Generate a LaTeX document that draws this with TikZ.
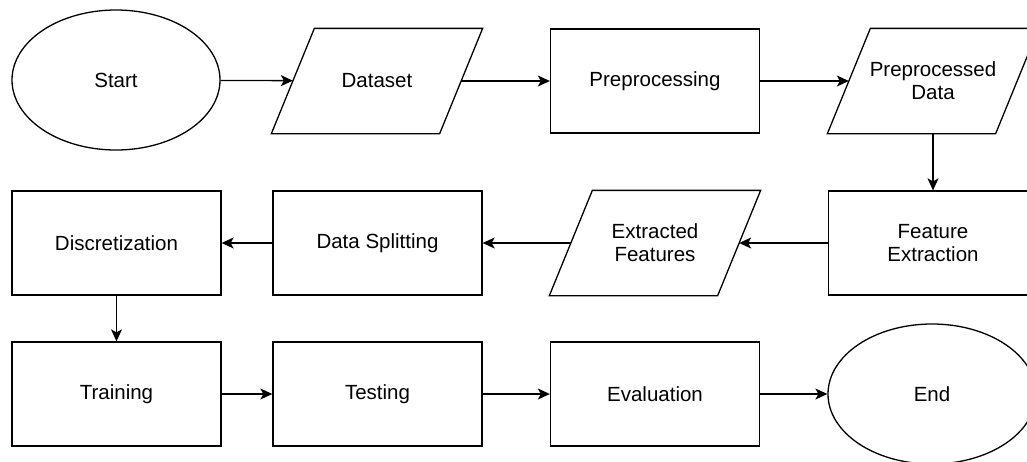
\documentclass[tikz,border=0pt]{standalone}
\usepackage{fontspec}
\setmainfont{Liberation Sans}
\usetikzlibrary{shapes.geometric,arrows.meta}
% outline of a data (input/output) box around a named node
\newcommand\ioshape[1]{%
  \draw[line width=1.3pt,line join=miter]
    ([xshift=-21.5pt]#1.south west) -- ([xshift=21.5pt]#1.north west) --
    ([xshift=21.5pt]#1.north east) -- ([xshift=-21.5pt]#1.south east) -- cycle;}
\begin{document}
\begin{tikzpicture}[x=1pt,y=-1pt,
  every node/.style={font=\fontsize{20.5}{23}\selectfont, align=center, line width=1.3pt, inner sep=0pt},
  proc/.style={draw, rectangle, minimum width=209pt, minimum height=104pt},
  term/.style={draw, ellipse, minimum width=208pt, minimum height=140pt},
  io/.style={rectangle, minimum width=167pt, minimum height=104pt},
  flow/.style={line width=1.3pt, -{Stealth[length=12pt,width=11pt,inset=3pt]}}]
\clip (0,0) rectangle (1027,461);
\fill[white] (0,0) rectangle (1027,461);
% first row
\node[term] (start) at (116,80) {Start};
\node[io]   (dataset) at (377,81) {Dataset};
\node[proc] (prep) at (655,81) {Preprocessing};
\node[io]   (pdata) at (933,81) {Preprocessed\\Data};
% second row
\node[proc] (disc) at (116.5,243) {Discretization};
\node[proc] (split) at (377.5,243) {Data Splitting};
\node[io]   (efeat) at (655,243) {Extracted\\Features};
\node[proc] (fext) at (933,243) {Feature\\Extraction};
% third row
\node[proc] (train) at (116.5,394) {Training};
\node[proc] (test) at (377.5,394) {Testing};
\node[proc] (eval) at (655,394) {Evaluation};
\node[term] (end) at (932,394) {End};
% data box outlines
\ioshape{dataset}
\ioshape{pdata}
\ioshape{efeat}
% connectors
\draw[flow] (start) -- (dataset);
\draw[flow] (dataset) -- (prep);
\draw[flow] (prep) -- (pdata);
\draw[flow] (pdata) -- (fext);
\draw[flow] (fext) -- (efeat);
\draw[flow] (efeat) -- (split);
\draw[flow] (split) -- (disc);
\draw[flow] (disc) -- (train);
\draw[flow] (train) -- (test);
\draw[flow] (test) -- (eval);
\draw[flow] (eval) -- (end);
\end{tikzpicture}
\end{document}
